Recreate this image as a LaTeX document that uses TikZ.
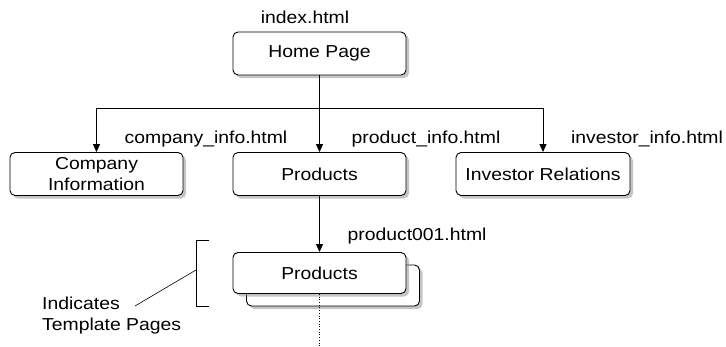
\documentclass[tikz,border=0pt]{standalone}
\usepackage{fontspec}
\setmainfont{Liberation Sans}[FakeStretch=1.12]
\usetikzlibrary{arrows.meta,shadows}

\begin{document}
\begin{tikzpicture}[x=1pt,y=-1pt,
	every node/.style={font=\fontsize{17.3}{21}\selectfont},
	page/.style={draw,line width=0.9pt,rounded corners=5pt,fill=white,
		minimum width=173pt,minimum height=43pt,align=center,
		drop shadow={shadow xshift=3pt,shadow yshift=-3pt,fill=black!45}},
	file/.style={inner sep=0pt},
	link/.style={-{Triangle[length=8pt,width=7pt]},line width=0.9pt}]
		\useasboundingbox (0,0) rectangle (726,346);
		% pages
		\node[page] (home) at (319.5,53.5) {Home Page};
		\node[page] (company) at (96.5,174) {Company\\Information};
		\node[page] (products) at (319.5,174) {Products};
		\node[page, minimum width=174pt] (investor) at (543,174) {Investor Relations};
		\node[page, minimum height=41pt] (prodback) at (333,285.5) {};
		\node[page, minimum height=41pt] (prod001) at (319.5,273) {Products};
		% file names
		\node[file] (indexfile) at (305,17) {index.html};
		\node[file] (companyfile) at (206,139) {company\_info.html};
		\node[file] (productfile) at (426,139) {product\_info.html};
		\node[file] (investorfile) at (647,139) {investor\_info.html};
		\node[file] (prod001file) at (417,236) {product001.html};
		% links
		\coordinate (split) at (319.5,108);
		\draw[link] (home) -- (products);
		\draw[link] (split) -| (company);
		\draw[link] (split) -| (investor);
		\draw[link] (products) -- (prod001);
		\coordinate (more) at (319.5,346);
		\draw[dotted,line width=0.7pt] (prod001.south) -- (more);
		% template bracket
		\draw[line width=0.8pt] (209,240) -- (196,240) -- (196,306) -- (209,306);
		\coordinate (bracket) at (196,270);
		\node[file, anchor=west, align=left] (note) at (42,316) {Indicates\\Template Pages};
		\coordinate (noteend) at (135,306);
		\draw[line width=0.6pt] (noteend) -- (bracket);
\end{tikzpicture}
\end{document}
